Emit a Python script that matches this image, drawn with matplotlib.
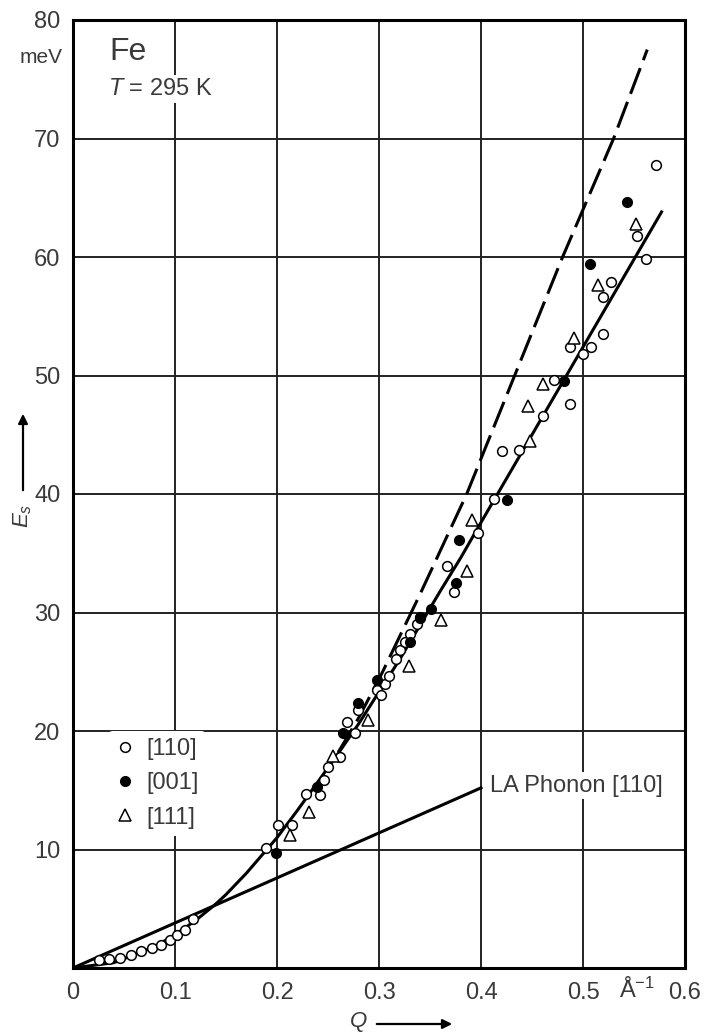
import matplotlib
matplotlib.use("Agg")
import matplotlib.pyplot as plt
from matplotlib.lines import Line2D

plt.rcParams['font.family'] = ['Liberation Sans', 'DejaVu Sans']
plt.rcParams['mathtext.fontset'] = 'custom'
plt.rcParams['mathtext.rm'] = 'Liberation Sans'
plt.rcParams['mathtext.it'] = 'Liberation Sans:italic'

# --- data (q in 1/A, E in meV) ---
q_110 = [0.025, 0.035, 0.046, 0.057, 0.067, 0.077, 0.086, 0.095, 0.102, 0.110, 0.118,
         0.189, 0.201, 0.215, 0.228, 0.242, 0.246, 0.250, 0.262, 0.269, 0.276, 0.279,
         0.298, 0.302, 0.306, 0.310, 0.317, 0.321, 0.325, 0.330, 0.337, 0.340,
         0.367, 0.374, 0.397, 0.413, 0.421, 0.437, 0.461, 0.472, 0.487, 0.487, 0.500,
         0.508, 0.520, 0.520, 0.527, 0.553, 0.562, 0.572]
E_110 = [0.65, 0.75, 0.85, 1.1, 1.4, 1.65, 1.95, 2.35, 2.75, 3.2, 4.1,
         10.1, 12.1, 12.1, 14.7, 14.6, 15.9, 17.0, 17.8, 20.8, 19.8, 21.8,
         23.5, 23.0, 24.0, 24.6, 26.1, 26.8, 27.5, 28.2, 29.0, 29.5,
         33.9, 31.7, 36.7, 39.6, 43.6, 43.7, 46.6, 49.6, 47.6, 52.4, 51.8,
         52.4, 53.5, 56.6, 57.9, 61.8, 59.8, 67.8]

q_001 = [0.199, 0.239, 0.265, 0.279, 0.298, 0.330, 0.340, 0.351, 0.375, 0.378,
         0.425, 0.481, 0.507, 0.543]
E_001 = [9.7, 15.3, 19.8, 22.4, 24.3, 27.5, 29.6, 30.3, 32.5, 36.1,
         39.5, 49.5, 59.4, 64.6]

q_111 = [0.213, 0.231, 0.255, 0.289, 0.329, 0.361, 0.386, 0.391, 0.446, 0.448,
         0.461, 0.491, 0.515, 0.552]
E_111 = [11.2, 13.2, 17.9, 20.9, 25.5, 29.4, 33.5, 37.8, 47.4, 44.5,
         49.3, 53.2, 57.6, 62.8]

# fitted spin-wave curve (solid) and extrapolated D q^2 (dashed)
q_fit = [0.0, 0.04, 0.08, 0.10, 0.12, 0.13, 0.14, 0.15, 0.16, 0.17, 0.18, 0.20,
         0.22, 0.24, 0.26, 0.28, 0.30, 0.32, 0.34, 0.36, 0.38, 0.40, 0.45, 0.50, 0.577]
E_fit = [0.0, 0.45, 1.8, 2.8, 4.0, 4.7, 5.4, 6.2, 7.1, 8.0, 9.0, 11.0,
         13.3, 15.7, 18.1, 20.6, 23.3, 26.0, 28.9, 31.8, 34.6, 37.6, 45.0, 52.4, 63.8]
q_dash = [0.26, 0.28, 0.303, 0.34, 0.386, 0.433, 0.48, 0.53, 0.563]
E_dash = [18.2, 21.1, 24.9, 31.5, 40.0, 50.0, 60.0, 70.0, 77.5]

q_la = [0.0, 0.40]
E_la = [0.0, 15.2]

xticks = [0, 0.1, 0.2, 0.3, 0.4, 0.5, 0.6]
xticklabels = ["0", "0.1", "0.2", "0.3", "0.4", "0.5", "0.6"]
yticks = [10, 20, 30, 40, 50, 60, 70, 80]

txt = '#3a3a3a'
fs = 17

fig = plt.figure(figsize=(7.05, 10.36), dpi=100)
ax = fig.add_axes([73 / 705, 68 / 1036, 612 / 705, 948 / 1036])
ax.set_xlim(0, 0.6)
ax.set_ylim(0, 80)

ax.set_xticks(xticks)
ax.set_xticklabels(xticklabels)
ax.set_yticks(yticks)
ax.tick_params(axis='x', length=0, labelsize=fs, labelcolor=txt, pad=10)
ax.tick_params(axis='y', length=0, labelsize=fs, labelcolor=txt, pad=9)
ax.grid(True, color='#222222', linewidth=1.4, zorder=0)
ax.set_axisbelow(True)
for s in ax.spines.values():
    s.set_linewidth(2.2)

ax.plot(q_fit, E_fit, color='black', lw=2.2, zorder=3)
ax.plot(q_dash, E_dash, color='black', lw=2.2, dashes=(9, 2.8), zorder=3)
ax.plot(q_la, E_la, color='black', lw=2.2, zorder=3)

ms = 7
ax.plot(q_110, E_110, 'o', mfc='white', mec='black', mew=1.1, ms=ms, zorder=4)
ax.plot(q_001, E_001, 'o', mfc='black', mec='black', ms=ms, zorder=4)
ax.plot(q_111, E_111, '^', mfc='white', mec='black', mew=1.1, ms=ms + 1, zorder=4)

handles = [
    Line2D([], [], ls='none', marker='o', mfc='white', mec='black', mew=1.1, ms=ms),
    Line2D([], [], ls='none', marker='o', mfc='black', mec='black', ms=ms),
    Line2D([], [], ls='none', marker='^', mfc='white', mec='black', mew=1.1, ms=ms + 1),
]
leg = ax.legend(handles, ["[110]", "[001]", "[111]"], loc='upper left',
                bbox_to_anchor=(0.058, 0.250), fontsize=fs, frameon=True,
                handlelength=0.8, handletextpad=0.5, labelspacing=0.52,
                borderpad=0.3, borderaxespad=0)
leg.get_frame().set_facecolor('white')
leg.get_frame().set_edgecolor('none')
leg.get_frame().set_alpha(1)
for t in leg.get_texts():
    t.set_color(txt)

bg = dict(facecolor='white', edgecolor='none', pad=2)
ax.text(0.036, 77.3, "Fe", fontsize=23, color=txt, va='center', ha='left', zorder=5)
ax.text(0.034, 74.2, "$T$ = 295 K", fontsize=fs, color=txt, va='center', ha='left',
        bbox=bg, zorder=5)
ax.text(0.409, 15.4, "LA Phonon [110]", fontsize=fs, color=txt, va='center', ha='left',
        bbox=bg, zorder=5)
ax.text(0.553, -1.9, "Å$^{-1}$", fontsize=fs, color=txt, va='center', ha='center',
        clip_on=False)

fig.text(63 / 705, 1 - 57 / 1036, "meV", fontsize=15, color=txt, ha='right', va='center')

# axis labels with arrows
fig.text(23 / 705, 1 - 516 / 1036, "$E_s$", fontsize=16, color=txt, rotation=90,
         ha='center', va='center')
ax.annotate("", xy=(23 / 705, 1 - 411 / 1036), xytext=(23 / 705, 1 - 493 / 1036),
            xycoords='figure fraction', textcoords='figure fraction',
            arrowprops=dict(arrowstyle='-|>', color='black', lw=1.6, mutation_scale=14))
fig.text(358 / 705, 1 - 1022 / 1036, "$Q$", fontsize=16, color=txt, ha='center', va='center')
ax.annotate("", xy=(455 / 705, 1 - 1024 / 1036), xytext=(374 / 705, 1 - 1024 / 1036),
            xycoords='figure fraction', textcoords='figure fraction',
            arrowprops=dict(arrowstyle='-|>', color='black', lw=1.6, mutation_scale=14))

fig.savefig("out.png", dpi=100)
